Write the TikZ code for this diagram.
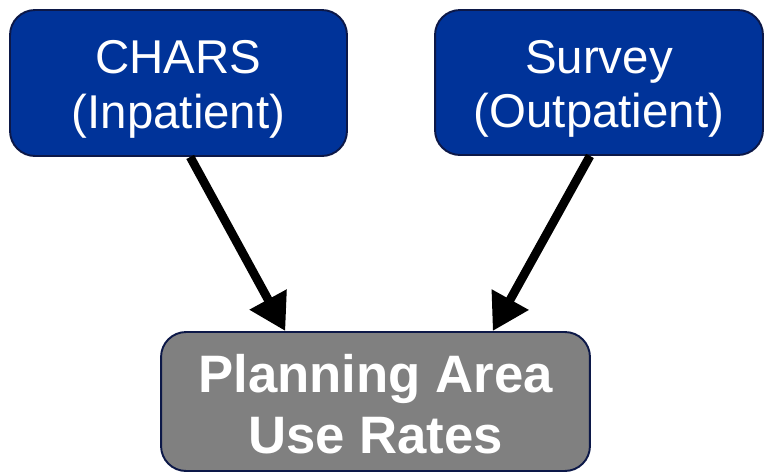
\documentclass[tikz,border=0pt]{standalone}
\usepackage{fontspec}
\setmainfont{Liberation Sans}
\usepackage{xcolor}
\usepackage{tikz}
\usetikzlibrary{arrows.meta,positioning}
\definecolor{srcblue}{RGB}{0,51,153}
\definecolor{edgenavy}{RGB}{12,24,72}
\definecolor{rategray}{RGB}{128,128,128}
\tikzset{>={Triangle[length=0.72cm,width=0.8cm]}}
\tikzset{src node/.style={rectangle,rounded corners=0.5cm,fill=srcblue,draw=edgenavy,line width=1.1pt,
            text=white,align=center,font=\fontsize{27}{31}\selectfont,inner sep=0pt},
         rate node/.style={rectangle,rounded corners=0.5cm,fill=rategray,draw=edgenavy,line width=1.1pt,
            text=white,align=center,font=\fontsize{30}{35}\selectfont\bfseries,inner sep=0pt},
            }

\begin{document}
\begin{tikzpicture}[x=0.02cm,y=-0.02cm]

    \useasboundingbox (0,0) rectangle (765,474);

    \node[src node,minimum width=6.74cm,minimum height=2.92cm] (chars) at (178.5,83) {\rule{0pt}{26pt}CHARS\\(Inpatient)};
    \node[src node,minimum width=6.56cm,minimum height=2.9cm] (survey) at (599,82.5) {\rule{0pt}{26pt}Survey\\(Outpatient)};
    \node[rate node,minimum width=8.58cm,minimum height=2.78cm] (rates) at (375.5,401.5) {\rule{0pt}{25pt}Planning Area\\Use Rates};

    \draw[line width=5pt,->] (chars.-81) -- (rates.142);
    \draw[line width=5pt,->] (survey.-97) -- (rates.31);

\end{tikzpicture}
\end{document}
